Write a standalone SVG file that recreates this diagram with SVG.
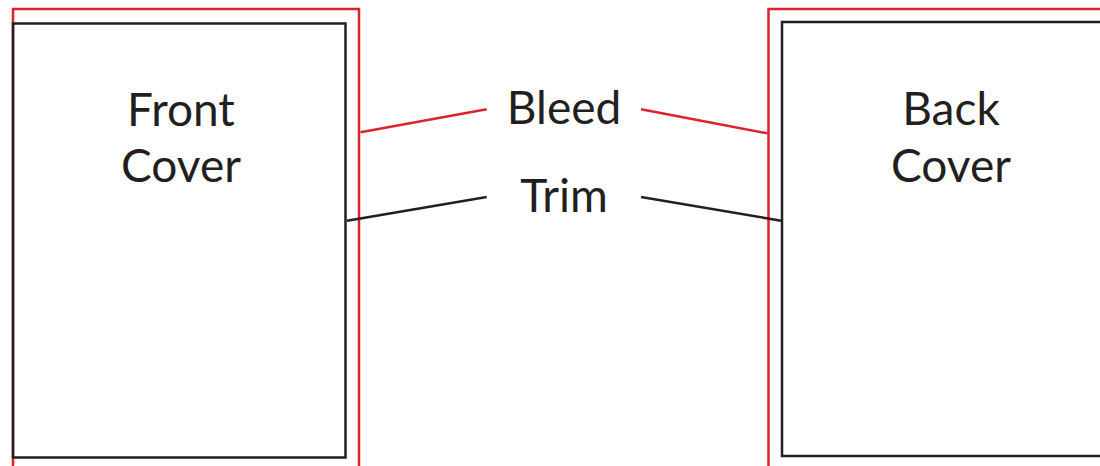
<svg xmlns="http://www.w3.org/2000/svg" width="1100" height="466" viewBox="0 0 1100 466">
<style>
.bleed{fill:none;stroke:#d9232d;stroke-width:2.5}
.trim{fill:none;stroke:#231f20;stroke-width:2.5}
.lbl{font-family:Lato,"Liberation Sans",sans-serif;font-size:46px;font-weight:400;fill:#231f20;text-anchor:middle}
</style>
<rect width="1100" height="466" fill="#fff"/>
<g id="front">
<rect class="bleed" x="13" y="9" width="346" height="470"/>
<rect class="trim" x="13" y="23.5" width="332.5" height="434"/>
<text class="lbl" x="181" y="126">Front</text>
<text class="lbl" x="181" y="182">Cover</text>
</g>
<g id="back">
<rect class="bleed" x="768.5" y="9" width="350" height="470"/>
<rect class="trim" x="782" y="22" width="340" height="434"/>
<text class="lbl" x="951" y="125">Back</text>
<text class="lbl" x="951" y="182">Cover</text>
</g>
<g id="labels">
<text class="lbl" x="564" y="124">Bleed</text>
<text class="lbl" x="564" y="212">Trim</text>
</g>
<g id="connectors">
<line class="bleed" x1="360.5" y1="132.3" x2="486.7" y2="109.3"/>
<line class="bleed" x1="641" y1="109.3" x2="767.3" y2="133.3"/>
<line class="trim" x1="347" y1="220.7" x2="486.7" y2="197"/>
<line class="trim" x1="641" y1="197" x2="781" y2="220.7"/>
</g>
</svg>
